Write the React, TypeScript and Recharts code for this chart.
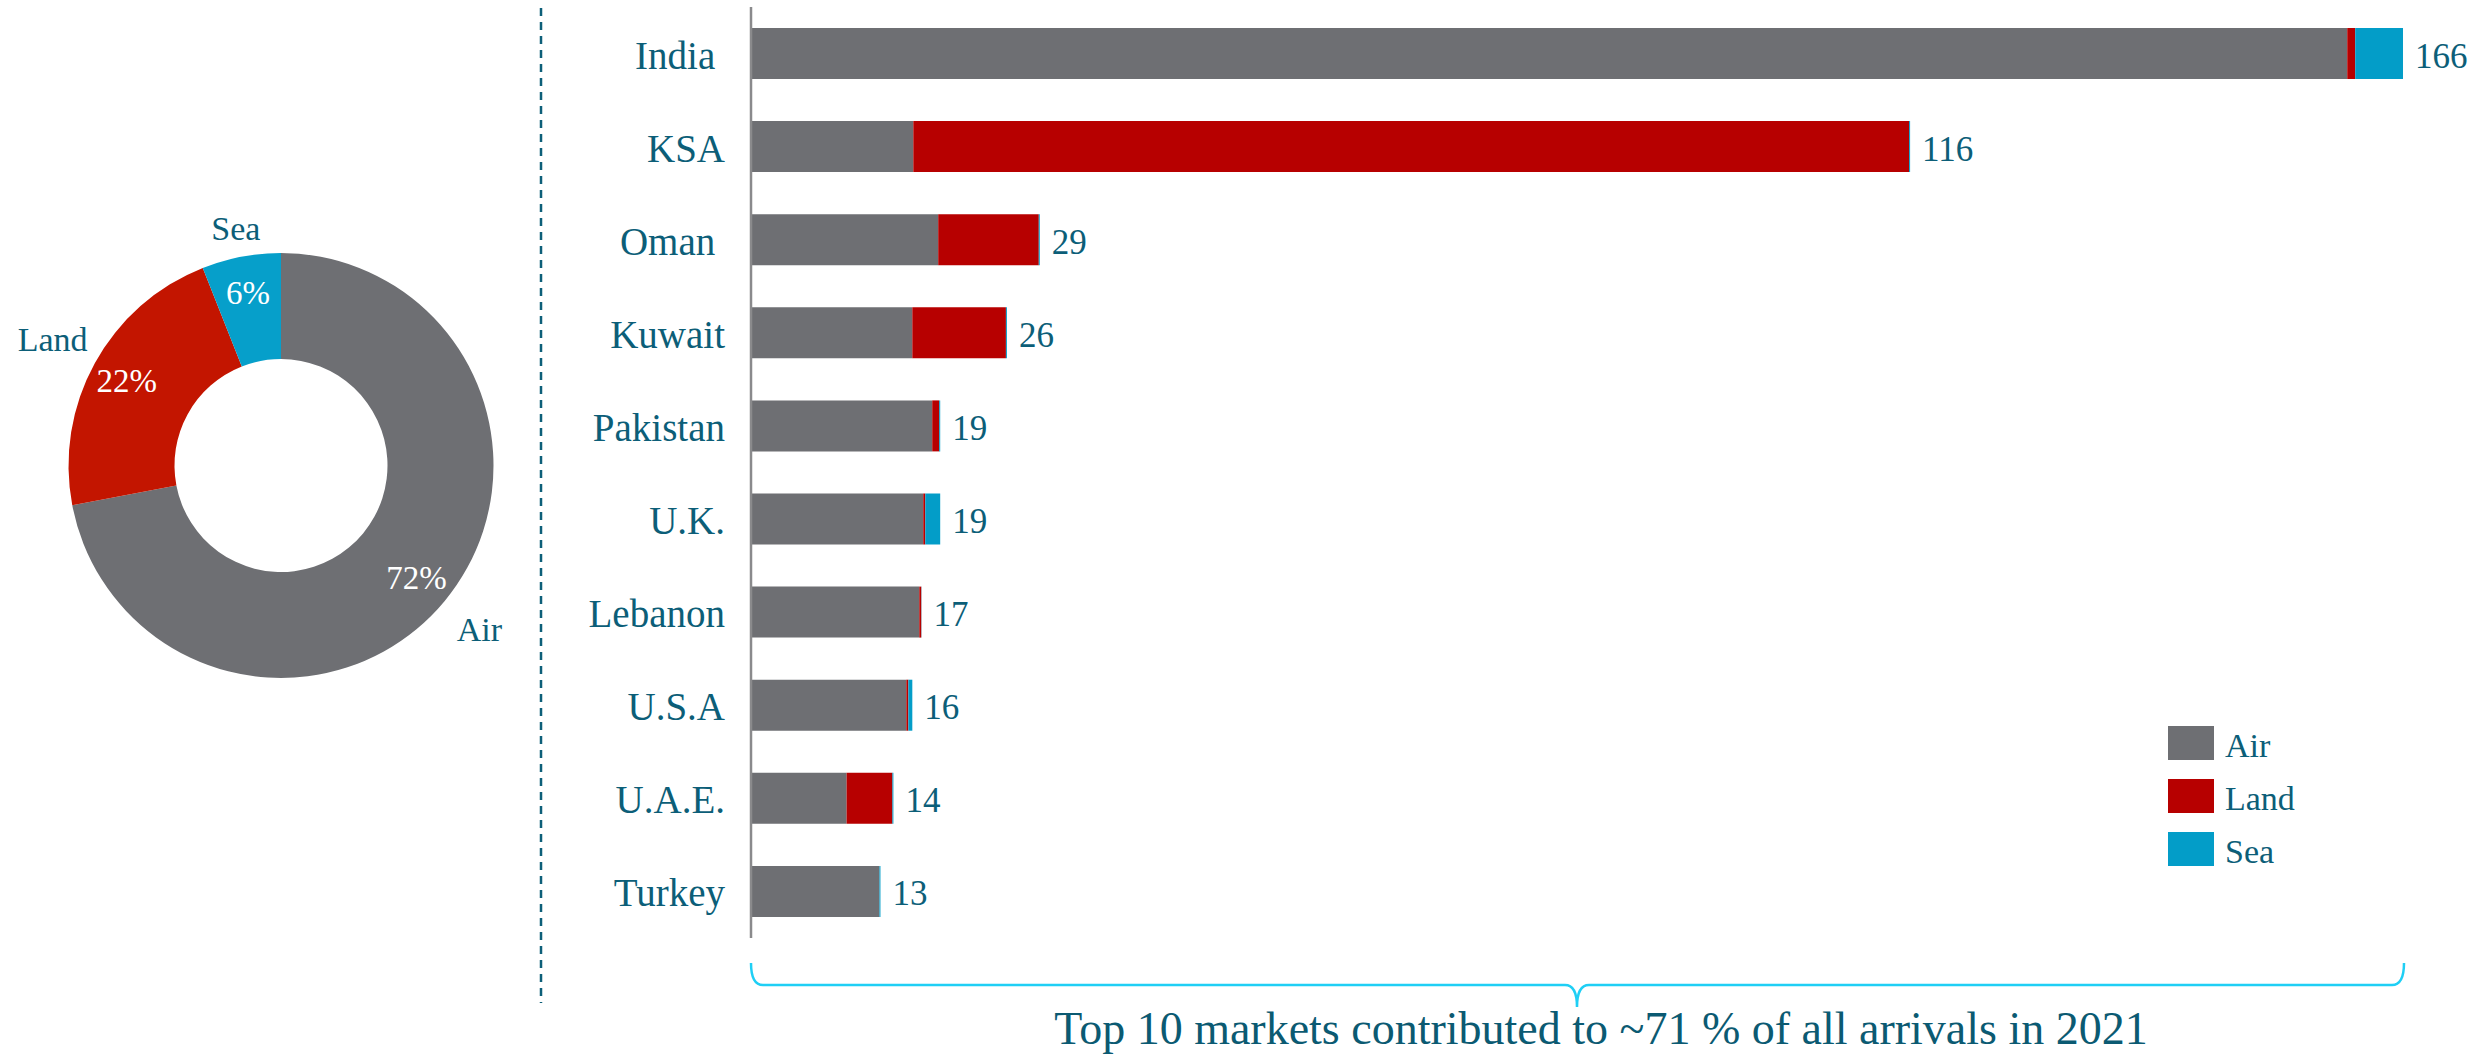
import { BarChart, Bar, XAxis, YAxis, PieChart, Pie, Cell, LabelList } from "recharts";

// top 10 markets, arrivals by mode
const markets = ["India ", "KSA", "Oman ", "Kuwait", "Pakistan", "U.K.", "Lebanon", "U.S.A", "U.A.E.", "Turkey"];
const airValues = [160.3, 16.3, 18.8, 16.2, 18.2, 17.3, 16.9, 15.6, 9.6, 12.9];
const landValues = [0.8, 100.0, 10.1, 9.4, 0.7, 0.2, 0.2, 0.2, 4.6, 0];
const seaValues = [4.8, 0.1, 0.1, 0.1, 0.1, 1.5, 0.02, 0.4, 0.1, 0.1];
const totals = [166, 116, 29, 26, 19, 19, 17, 16, 14, 13];

// share of all arrivals by mode
const modes = ["Air", "Land", "Sea"];
const modeShares = [72, 22, 6];

const subtitle = "Top 10 markets contributed to ~71 % of all arrivals in 2021";

const FONT = "'Liberation Serif', 'DejaVu Serif', serif";
const TEXT = "#0c5e78";
const BAR_COLORS = ["#6e6f73", "#b70000", "#039dc8"];
const PIE_COLORS = ["#6e6f73", "#c31500", "#069fca"];
const RADIAN = Math.PI / 180;

const barData = markets.map((name, i) => ({
  name, Air: airValues[i], Land: landValues[i], Sea: seaValues[i], total: totals[i],
}));
const pieData = modes.map((name, i) => ({ name, value: modeShares[i] }));

const CategoryTick = ({ x, y, payload }: any) => (
  <text x={x} y={y} dy={15} textAnchor="end" fill={TEXT} fontSize={39} fontFamily={FONT} style={{ whiteSpace: "pre" }}>
    {payload.value}
  </text>
);

const TotalLabel = ({ x, y, width, height, value }: any) => (
  <text x={Number(x) + Number(width) + 12} y={Number(y) + Number(height) / 2 + 14} fill={TEXT} fontSize={35} fontFamily={FONT}>
    {value}
  </text>
);

const PieLabel = ({ cx, cy, midAngle, value, name }: any) => {
  const cos = Math.cos(-midAngle * RADIAN);
  const sin = Math.sin(-midAngle * RADIAN);
  const rIn = 176;
  // push the names out a little more where the text runs sideways
  const rOut = 236 + 28 * Math.abs(cos);
  return (
    <g fontFamily={FONT}>
      <text x={cx + rIn * cos} y={cy + rIn * sin} fill="#fff" fontSize={33} textAnchor="middle" dominantBaseline="central">
        {value}%
      </text>
      <text x={cx + rOut * cos} y={cy + rOut * sin} fill={TEXT} fontSize={34} textAnchor="middle" dominantBaseline="central">
        {name}
      </text>
    </g>
  );
};

export default function App() {
  return (
    <div style={{ position: "absolute", left: 0, top: 0, width: 2471, height: 1055, background: "#fff", overflow: "hidden" }}>
      <div style={{ position: "absolute", left: 0, top: 0 }}>
        <PieChart width={540} height={1000} margin={{ top: 0, right: 0, bottom: 0, left: 0 }}>
          <Pie
            data={pieData} dataKey="value" nameKey="name" cx={281} cy={465.5}
            innerRadius={106.5} outerRadius={212.5} startAngle={90} endAngle={-270}
            stroke="none" labelLine={false} label={PieLabel} isAnimationActive={false}
          >
            {pieData.map((d, i) => <Cell key={d.name} fill={PIE_COLORS[i]} />)}
          </Pie>
        </PieChart>
      </div>

      <div style={{ position: "absolute", left: 0, top: 0 }}>
        <BarChart width={2471} height={1055} data={barData} layout="vertical" margin={{ top: 7, right: 67, bottom: 117, left: 0 }}>
          <XAxis type="number" domain={[0, 166]} hide />
          <YAxis
            type="category" dataKey="name" width={751} tick={<CategoryTick />}
            tickLine={false} tickSize={0} tickMargin={26} axisLine={{ stroke: "#8a8a8c", strokeWidth: 2.5 }}
          />
          <Bar dataKey="Air" stackId="a" fill={BAR_COLORS[0]} barSize={51} isAnimationActive={false} />
          <Bar dataKey="Land" stackId="a" fill={BAR_COLORS[1]} barSize={51} isAnimationActive={false} />
          <Bar dataKey="Sea" stackId="a" fill={BAR_COLORS[2]} barSize={51} isAnimationActive={false}>
            <LabelList dataKey="total" content={<TotalLabel />} />
          </Bar>
        </BarChart>
      </div>

      <svg width={2471} height={1055} style={{ position: "absolute", left: 0, top: 0, pointerEvents: "none" }}>
        <line x1={541} y1={8} x2={541} y2={1003} stroke="#0d5f79" strokeWidth={2.5} strokeDasharray="8 6" />

        <g transform="translate(2168, 726)">
          {modes.map((m, i) => (
            <g key={m}>
              <rect x={0} y={i * 53} width={46} height={34} fill={BAR_COLORS[i]} />
              <text x={57} y={i * 53 + 31} fill={TEXT} fontSize={34} fontFamily={FONT}>{m}</text>
            </g>
          ))}
        </g>

        <path
          d="M751,963 Q751,985 763,985 L1565,985 Q1577,985 1577,1007 Q1577,985 1589,985 L2392,985 Q2404,985 2404,963"
          fill="none" stroke="#1fcff5" strokeWidth={2.5}
        />
        <text x={1601} y={1044} textAnchor="middle" fill="#0b5a72" fontSize={46} fontFamily={FONT}>
          {subtitle}
        </text>
      </svg>
    </div>
  );
}
